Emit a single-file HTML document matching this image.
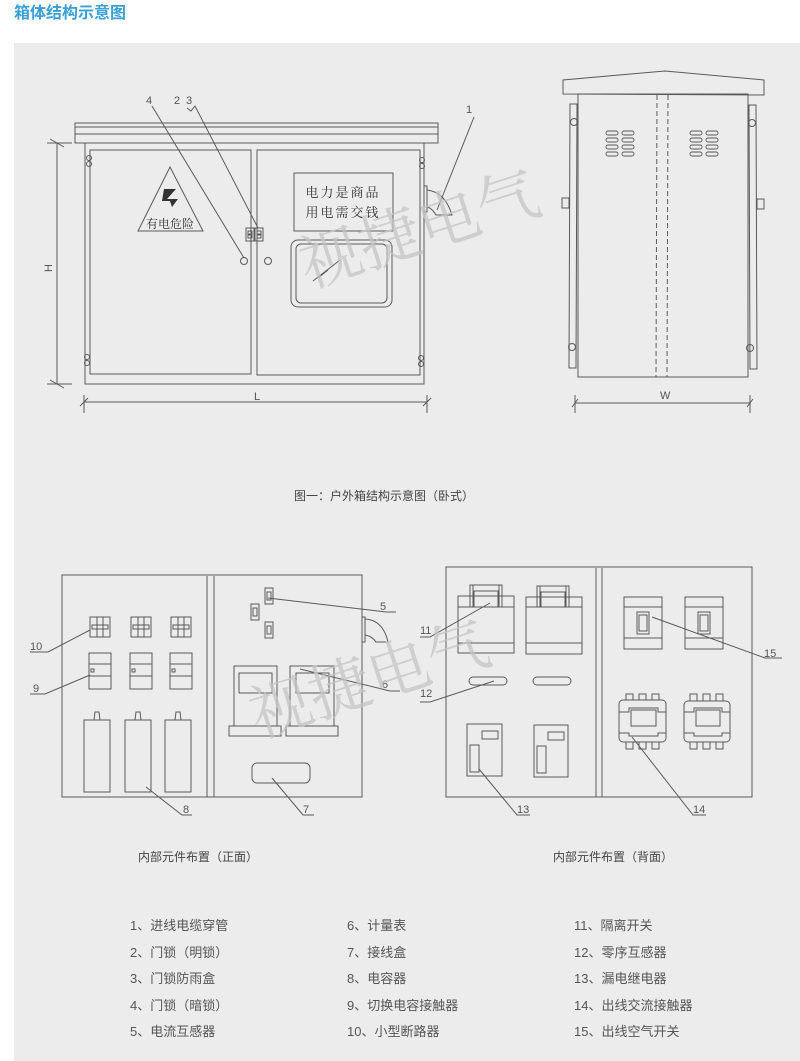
<!DOCTYPE html>
<html><head><meta charset="utf-8"><style>
body{margin:0;background:#fff;}
svg{display:block;font-family:"Liberation Sans","Noto Sans CJK SC",sans-serif;}
</style></head><body>
<svg width="800" height="1061" viewBox="0 0 800 1061" xmlns="http://www.w3.org/2000/svg">
<rect x="0" y="0" width="800" height="1061" fill="#fff"/>
<text x="14" y="18" font-size="16" fill="#3aa0d6" font-weight="bold">箱体结构示意图</text>
<rect x="14" y="43" width="786" height="1018" fill="#ececec"/>

<g fill="none" stroke="#5a5a5a" stroke-width="1">
<rect x="75" y="123" width="363" height="20"/>
<line x1="75" y1="127" x2="438" y2="127"/><line x1="75" y1="134" x2="438" y2="134"/>
<rect x="85" y="143" width="339" height="241"/>
<rect x="90" y="150" width="161" height="224"/>
<rect x="257" y="150" width="163" height="225"/>
<circle cx="89" cy="158" r="2.5"/><circle cx="89" cy="164" r="2.5"/>
<circle cx="87" cy="357" r="2.5"/><circle cx="87" cy="363" r="2.5"/>
<circle cx="422" cy="160" r="2.5"/><circle cx="422" cy="166" r="2.5"/>
<circle cx="421" cy="358" r="2.5"/><circle cx="421" cy="364" r="2.5"/>
<polygon points="170,167 138,231 203,231"/>
<rect x="294" y="173" width="99" height="58"/>
<rect x="291" y="240" width="101" height="67" rx="7"/>
<rect x="296" y="244" width="91" height="59" rx="5"/>
<line x1="313" y1="281" x2="340" y2="260"/><line x1="318" y1="278" x2="328" y2="270"/>
<rect x="246" y="228" width="8" height="13"/><rect x="255" y="228" width="8" height="13"/>
<rect x="248" y="231" width="4" height="3"/><rect x="248" y="235" width="4" height="3"/>
<rect x="257" y="231" width="4" height="3"/><rect x="257" y="235" width="4" height="3"/>
<circle cx="244" cy="261" r="3.5"/><circle cx="268" cy="261" r="3.5"/>
<line x1="152" y1="106" x2="244" y2="258"/>
<polyline points="187,108 191,111 195,106 258,228"/>
<path d="M424 186 L427 186 L427 212 L424 212"/>
<path d="M427 190 Q445 192 452 215 L436 215 Q432 208 427 207"/>
<line x1="474" y1="117" x2="437" y2="210"/>
<line x1="57" y1="143" x2="57" y2="384"/>
<line x1="50" y1="139" x2="64" y2="147"/><line x1="50" y1="380" x2="64" y2="388"/>
<line x1="47" y1="143" x2="72" y2="143"/><line x1="47" y1="384" x2="72" y2="384"/>
<line x1="84" y1="402" x2="427" y2="402"/>
<line x1="84" y1="395" x2="84" y2="413"/><line x1="427" y1="395" x2="427" y2="413"/>
<line x1="80" y1="406" x2="88" y2="398"/><line x1="423" y1="406" x2="431" y2="398"/>

<polygon points="563,94 563,80 665,71 764,80 764,95"/>
<rect x="578" y="94" width="170" height="283"/>
<polygon points="570,104 577,104 576,368 569,368"/>
<polygon points="749,105 756,105 757,369 750,369"/>
<line x1="657" y1="95" x2="656" y2="377" stroke-dasharray="5,3"/>
<line x1="668" y1="95" x2="667" y2="377" stroke-dasharray="5,3"/>
<circle cx="574" cy="122" r="3.5"/><circle cx="752" cy="123" r="3.5"/>
<circle cx="572" cy="347" r="3.5"/><circle cx="750" cy="348" r="3.5"/>
<rect x="562" y="198" width="7" height="10"/><rect x="757" y="199" width="7" height="10"/>
<line x1="575" y1="403" x2="750" y2="403"/>
<line x1="575" y1="395" x2="575" y2="413"/><line x1="750" y1="395" x2="750" y2="413"/>
<line x1="572" y1="407" x2="578" y2="399"/><line x1="747" y1="407" x2="753" y2="399"/>
</g>
<g fill="none" stroke="#5a5a5a" stroke-width="0.9">
<rect x="606" y="131" width="12" height="4" rx="2"/><rect x="622" y="131" width="12" height="4" rx="2"/>
<rect x="606" y="138" width="12" height="4" rx="2"/><rect x="622" y="138" width="12" height="4" rx="2"/>
<rect x="606" y="145" width="12" height="4" rx="2"/><rect x="622" y="145" width="12" height="4" rx="2"/>
<rect x="606" y="152" width="12" height="4" rx="2"/><rect x="622" y="152" width="12" height="4" rx="2"/>
<rect x="690" y="131" width="12" height="4" rx="2"/><rect x="706" y="131" width="12" height="4" rx="2"/>
<rect x="690" y="138" width="12" height="4" rx="2"/><rect x="706" y="138" width="12" height="4" rx="2"/>
<rect x="690" y="145" width="12" height="4" rx="2"/><rect x="706" y="145" width="12" height="4" rx="2"/>
<rect x="690" y="152" width="12" height="4" rx="2"/><rect x="706" y="152" width="12" height="4" rx="2"/>
</g>
<path d="M164 189 L176 189 L167 199 L178 199 L172 207 L170 201 L162 201 Z" fill="#333"/>
<g font-size="13" fill="#333" font-family="'Liberation Serif','Noto Serif CJK SC',serif">
<text x="170" y="228" text-anchor="middle" font-size="12">有电危险</text>
<text x="343" y="197" text-anchor="middle" letter-spacing="2">电力是商品</text>
<text x="343" y="217" text-anchor="middle" letter-spacing="2">用电需交钱</text>
</g>
<g font-size="11" fill="#555">
<text x="146" y="104">4</text><text x="174" y="104">2</text><text x="186" y="104">3</text>
<text x="466" y="113">1</text>
<text x="254" y="400">L</text><text x="660" y="399">W</text>
<text x="48" y="268" transform="rotate(-90 52 268)">H</text>
</g>
<text x="384" y="500" text-anchor="middle" font-size="12" fill="#444">图一：户外箱结构示意图（卧式）</text>

<g fill="none" stroke="#5a5a5a" stroke-width="1">
<rect x="62" y="575" width="300" height="222"/>
<line x1="207" y1="576" x2="207" y2="797"/><line x1="214" y1="576" x2="214" y2="797"/>
<rect x="90" y="617" width="20" height="20"/><rect x="131" y="617" width="20" height="20"/><rect x="171" y="617" width="20" height="20"/>
<path d="M97 617V637M103 617V637M138 617V637M144 617V637M178 617V637M184 617V637"/>
<rect x="92" y="625" width="16" height="4"/><rect x="133" y="625" width="16" height="4"/><rect x="173" y="625" width="16" height="4"/>
<rect x="89" y="653" width="22" height="36"/><rect x="130" y="653" width="22" height="36"/><rect x="170" y="653" width="22" height="36"/>
<path d="M89 664H111M89 676H111M130 664H152M130 676H152M170 664H192M170 676H192"/>
<rect x="91" y="669" width="3" height="3"/><rect x="132" y="669" width="3" height="3"/><rect x="172" y="669" width="3" height="3"/>
<rect x="84" y="720" width="26" height="72"/><rect x="125" y="720" width="26" height="72"/><rect x="165" y="720" width="26" height="72"/>
<path d="M94 720L95 712H99L100 720M135 720L136 712H140L141 720M175 720L176 712H180L181 720"/>
<rect x="265" y="588" width="8" height="16"/><rect x="251" y="604" width="8" height="16"/><rect x="265" y="622" width="8" height="16"/>
<rect x="267" y="592" width="4" height="8"/><rect x="253" y="608" width="4" height="8"/><rect x="267" y="626" width="4" height="8"/>
<rect x="234" y="666" width="43" height="60"/><rect x="239" y="673" width="33" height="20"/>
<rect x="229" y="726" width="52" height="10"/>
<rect x="290" y="666" width="44" height="60"/><rect x="296" y="673" width="33" height="20"/>
<rect x="286" y="726" width="52" height="10"/>
<rect x="252" y="763" width="58" height="20" rx="5"/>
<path d="M362 617L365 617L365 642L362 642"/>
<path d="M365 619Q383 620 388 642L376 642Q372 636 365 635"/>
<path d="M268 598L386 612H396"/><path d="M300 669L390 691H400"/>
<path d="M30 652H48L90 630"/><path d="M30 694H45L90 675"/>
<path d="M146 787L182 815H192"/><path d="M272 778L303 815H314"/>
</g>
<g font-size="11" fill="#555">
<text x="380" y="610">5</text><text x="382" y="688">6</text>
<text x="30" y="650">10</text><text x="33" y="692">9</text>
<text x="183" y="813">8</text><text x="303" y="813">7</text>
</g>

<g fill="none" stroke="#5a5a5a" stroke-width="1">
<rect x="446" y="567" width="306" height="230"/>
<line x1="596" y1="568" x2="596" y2="797"/><line x1="602" y1="568" x2="602" y2="797"/>
<rect x="458" y="596" width="56" height="57"/><line x1="458" y1="607" x2="514" y2="607"/><line x1="458" y1="643" x2="514" y2="643"/>
<rect x="470" y="585" width="32" height="22"/><line x1="473" y1="585" x2="473" y2="607"/><line x1="499" y1="585" x2="499" y2="607"/><rect x="474" y="591" width="24" height="16"/>
<rect x="526" y="597" width="56" height="57"/><line x1="526" y1="607" x2="582" y2="607"/><line x1="526" y1="643" x2="582" y2="643"/>
<rect x="537" y="586" width="32" height="21"/><line x1="540" y1="586" x2="540" y2="607"/><line x1="566" y1="586" x2="566" y2="607"/><rect x="541" y="592" width="24" height="15"/>
<rect x="469" y="677" width="38" height="8" rx="4"/><rect x="533" y="677" width="38" height="8" rx="4"/>
<rect x="467" y="724" width="35" height="52"/><rect x="482" y="731" width="16" height="8"/><rect x="470" y="745" width="9" height="27"/>
<rect x="534" y="725" width="34" height="52"/><rect x="548" y="732" width="16" height="8"/><rect x="537" y="746" width="9" height="27"/>
<rect x="624" y="597" width="38" height="52"/><line x1="624" y1="607" x2="662" y2="607"/><line x1="624" y1="638" x2="662" y2="638"/>
<rect x="637" y="612" width="12" height="22"/><rect x="639" y="615" width="8" height="16"/>
<rect x="685" y="597" width="38" height="52"/><line x1="685" y1="607" x2="723" y2="607"/><line x1="685" y1="638" x2="723" y2="638"/>
<rect x="698" y="612" width="12" height="22"/><rect x="700" y="615" width="8" height="16"/>
<rect x="619" y="700" width="47" height="42" rx="4"/><rect x="631" y="710" width="25" height="16"/><path d="M619 712H629V708H658V712H666M619 733H629V736H658V733H666"/>
<rect x="626" y="694" width="7" height="6"/><rect x="639" y="694" width="7" height="6"/><rect x="652" y="694" width="7" height="6"/>
<rect x="626" y="742" width="7" height="7"/><rect x="639" y="742" width="7" height="7"/><rect x="652" y="742" width="7" height="7"/>
<rect x="684" y="701" width="46" height="41" rx="4"/><rect x="696" y="710" width="24" height="16"/><path d="M684 712H694V708H722V712H730M684 733H694V736H722V733H730"/>
<rect x="690" y="694" width="7" height="7"/><rect x="703" y="694" width="7" height="7"/><rect x="716" y="694" width="7" height="7"/>
<rect x="690" y="742" width="7" height="7"/><rect x="703" y="742" width="7" height="7"/><rect x="716" y="742" width="7" height="7"/>
<path d="M490 603L430 637H420"/><path d="M494 681L430 702H420"/>
<path d="M479 769L517 815H530"/><path d="M632 737L693 815H706"/>
<path d="M652 617L765 658H782"/>
</g>
<g font-size="11" fill="#555">
<text x="420" y="634">11</text><text x="420" y="697">12</text>
<text x="517" y="813">13</text><text x="693" y="813">14</text><text x="764" y="657">15</text>
</g>

<text x="198" y="861" text-anchor="middle" font-size="12" fill="#444">内部元件布置（正面）</text>
<text x="613" y="861" text-anchor="middle" font-size="12" fill="#444">内部元件布置（背面）</text>

<g font-family="'Liberation Serif','Noto Serif CJK SC',serif" font-size="62" fill="#c4c4c4" fill-opacity="0.75">
<text x="308" y="288" transform="rotate(-18 308 288)">视捷电气</text>
<text x="258" y="738" transform="rotate(-18 258 738)">视捷电气</text>
</g>

<g font-size="13" fill="#555">
<text x="130" y="930">1、进线电缆穿管</text>
<text x="130" y="957">2、门锁（明锁）</text>
<text x="130" y="983">3、门锁防雨盒</text>
<text x="130" y="1010">4、门锁（暗锁）</text>
<text x="130" y="1036">5、电流互感器</text>
<text x="347" y="930">6、计量表</text>
<text x="347" y="957">7、接线盒</text>
<text x="347" y="983">8、电容器</text>
<text x="347" y="1010">9、切换电容接触器</text>
<text x="347" y="1036">10、小型断路器</text>
<text x="574" y="930">11、隔离开关</text>
<text x="574" y="957">12、零序互感器</text>
<text x="574" y="983">13、漏电继电器</text>
<text x="574" y="1010">14、出线交流接触器</text>
<text x="574" y="1036">15、出线空气开关</text>
</g>
</svg>
</body></html>
